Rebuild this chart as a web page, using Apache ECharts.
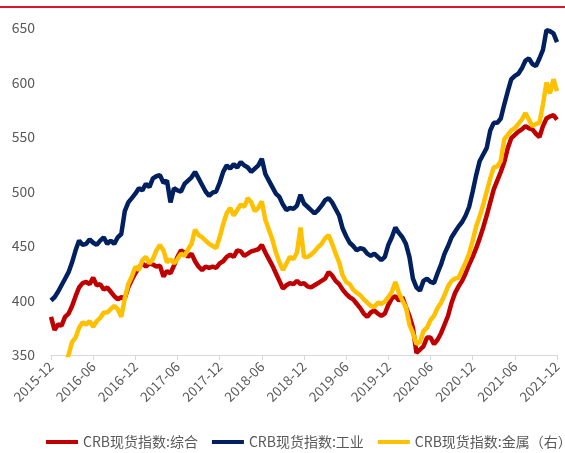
<!DOCTYPE html>
<html>
<head>
<meta charset="utf-8">
<script src="https://cdn.jsdelivr.net/npm/echarts@6/dist/echarts.min.js"></script>
<style>html,body{margin:0;padding:0;background:#fff;}#c{width:565px;height:453px;}</style>
</head>
<body>
<div id="c"></div>
<script>
// Half-monthly observations from 2015-12 to 2021-12
const startYear = 2015, startMonth = 12, pointsPerMonth = 2, nPoints = 145;
const yTicks = [350, 400, 450, 500, 550, 600, 650];
const seriesNames = ['CRB现货指数:综合', 'CRB现货指数:工业', 'CRB现货指数:金属（右）'];

const composite = [385,373,378,377,385,388,395,404,412,416,417,415,421,414,415,410,412,408,404,401,403,402,412,419,425,430,434,431,434,433,431,432,422,427,425,432,440,446,444,440,443,436,431,428,431,430,431,430,434,436,440,442,440,446,445,441,443,445,446,447,451,444,438,432,425,418,411,414,416,415,418,415,416,413,412,414,416,418,420,426,423,418,415,410,406,403,401,397,393,388,385,389,391,388,386,388,396,402,404,400,403,394,386,375,352,355,358,366,366,360,364,370,378,386,398,407,413,418,425,433,440,448,457,467,478,490,502,510,518,527,540,549,552,555,557,560,558,557,553,550,560,567,569,570,566];

const industrial = [400,403,408,414,420,426,435,446,455,451,452,456,453,451,455,458,452,455,452,458,461,482,490,494,498,503,501,507,504,512,514,515,508,510,490,503,501,500,507,510,513,518,512,506,500,496,499,500,508,518,524,521,525,522,527,524,522,518,521,524,530,516,510,504,498,495,488,483,485,484,487,497,489,486,483,480,483,487,492,494,490,484,478,466,459,453,450,446,448,447,443,441,443,440,437,440,451,458,467,462,458,452,440,420,412,409,418,420,417,416,425,433,443,450,458,463,468,472,478,486,500,515,528,534,540,556,563,563,567,580,592,603,606,608,613,620,622,617,615,622,630,648,647,645,637];

const metals = [325,328,332,336,342,350,362,366,375,380,378,381,376,381,384,389,389,392,395,392,385,402,415,422,431,428,437,440,434,438,446,451,446,435,438,434,438,443,441,447,452,465,460,458,455,452,450,448,458,470,480,485,478,483,488,486,494,490,482,485,491,474,465,456,444,435,428,434,440,438,444,467,440,440,442,445,449,452,457,460,452,443,435,423,417,415,410,407,405,401,398,395,394,398,397,399,403,408,417,407,400,394,378,370,360,362,372,375,382,386,393,398,405,413,418,420,421,428,435,443,455,468,477,488,500,512,522,523,528,548,552,556,558,562,566,572,566,560,562,563,580,600,590,603,592];

const colors = ['#C00000', '#002060', '#FFC000'];

const categories = [];
for (let i = 0; i < nPoints; i++) {
  const mIdx = (startMonth - 1) + Math.floor(i / pointsPerMonth);
  const y = startYear + Math.floor(mIdx / 12);
  const m = (mIdx % 12) + 1;
  categories.push(y + '-' + (m < 10 ? '0' + m : m) + (i % 2 ? 'b' : ''));
}
const showIdx = (idx) => idx % 12 === 0;

const chart = echarts.init(document.getElementById('c'), null, {renderer: 'canvas'});
const font = '"Noto Sans CJK SC", "Noto Sans", sans-serif';
chart.setOption({
  animation: false,
  backgroundColor: '#fff',
  color: colors,
  graphic: [{
    type: 'rect', left: 0, top: 6, shape: {width: 565, height: 2},
    style: {fill: '#D7172F'}, silent: true
  }],
  grid: {left: 51, right: 8, top: 28, bottom: 98, containLabel: false},
  legend: {
    top: 435, left: 46, width: 530, itemGap: 14, itemWidth: 32, itemHeight: 4,
    icon: 'rect', padding: 0,
    textStyle: {fontFamily: font, fontSize: 14, color: '#595959'},
    data: seriesNames
  },
  xAxis: {
    type: 'category', data: categories, boundaryGap: false,
    axisLine: {lineStyle: {color: '#D9D9D9', width: 1}},
    axisTick: {show: true, interval: (idx) => showIdx(idx), length: 5, lineStyle: {color: '#D9D9D9'}},
    axisLabel: {
      interval: (idx) => showIdx(idx), rotate: 45, color: '#595959',
      fontFamily: font, fontSize: 13.5, margin: 9,
      formatter: (v) => v.replace('b', '')
    },
    splitLine: {show: false}
  },
  yAxis: {
    type: 'value', min: yTicks[0], max: yTicks[yTicks.length - 1], interval: 50,
    axisLine: {show: false}, axisTick: {show: false}, splitLine: {show: false},
    axisLabel: {color: '#595959', fontFamily: font, fontSize: 14, margin: 16}
  },
  series: [
    {name: seriesNames[0], type: 'line', data: composite, showSymbol: false, lineStyle: {width: 4.5, color: colors[0]}, z: 3},
    {name: seriesNames[1], type: 'line', data: industrial, showSymbol: false, lineStyle: {width: 4.5, color: colors[1]}, z: 2},
    {name: seriesNames[2], type: 'line', data: metals, showSymbol: false, lineStyle: {width: 4.5, color: colors[2]}, z: 4, clip: true}
  ]
});
</script>
</body>
</html>
